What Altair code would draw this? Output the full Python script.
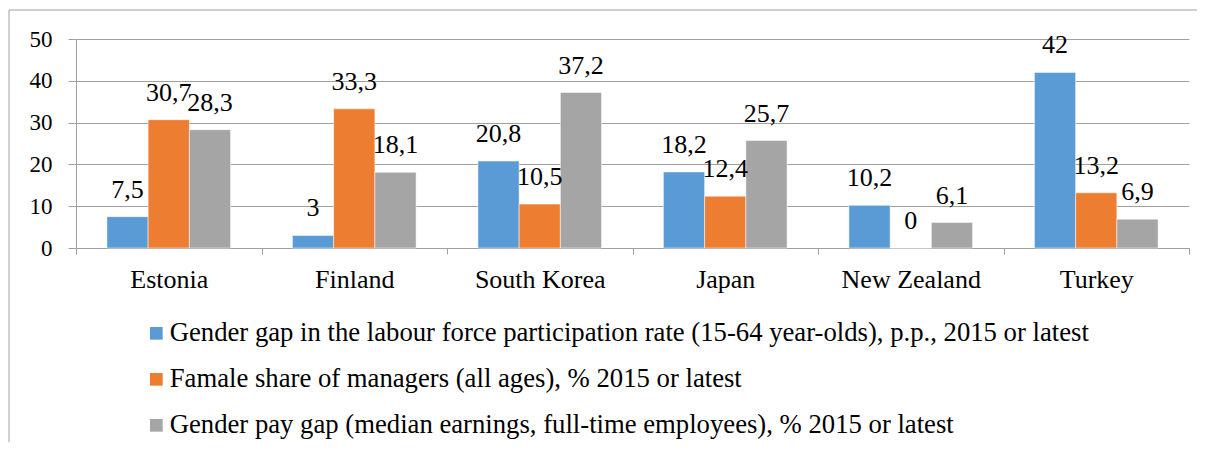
import altair as alt
import pandas as pd

countries = ["Estonia", "Finland", "South Korea", "Japan", "New Zealand", "Turkey"]
series = [
    "Gender gap in the labour force participation rate (15-64 year-olds), p.p., 2015 or latest",
    "Famale share of managers (all ages), % 2015 or latest",
    "Gender pay gap (median earnings, full-time employees), % 2015 or latest",
]
labour_gap = [7.5, 3, 20.8, 18.2, 10.2, 42]
female_managers = [30.7, 33.3, 10.5, 12.4, 0, 13.2]
pay_gap = [28.3, 18.1, 37.2, 25.7, 6.1, 6.9]
colors = ["#5B9BD5", "#ED7D31", "#A5A5A5"]
y_ticks = [0, 10, 20, 30, 40, 50]

rows = []
for s, vals in zip(series, [labour_gap, female_managers, pay_gap]):
    for c, v in zip(countries, vals):
        rows.append({"country": c, "series": s, "value": v,
                     "label": f"{v:g}".replace(".", ",")})
df = pd.DataFrame(rows)

FONT = "Liberation Serif, Times New Roman, serif"
GRID = "#A0A0A0"

x_enc = alt.X("country:N", sort=countries,
              scale=alt.Scale(paddingInner=0, paddingOuter=0),
              axis=alt.Axis(title=None, labelAngle=0, tickBand="extent", ticks=True,
                            tickSize=6, tickColor=GRID, domainColor=GRID,
                            labelFontSize=26, labelFont=FONT, labelColor="black",
                            labelPadding=12, grid=False))
xoff_enc = alt.XOffset("series:N", sort=series,
                       scale=alt.Scale(paddingInner=0, paddingOuter=0.75))
y_enc = alt.Y("value:Q", scale=alt.Scale(domain=[0, 50], nice=False),
              axis=alt.Axis(title=None, values=y_ticks, grid=True, gridColor=GRID,
                            domainColor=GRID, tickColor=GRID, tickSize=8,
                            labelFontSize=23, labelFont=FONT, labelColor="black",
                            labelPadding=16))

bars = alt.Chart(df).mark_bar(stroke="white", strokeWidth=0.5).encode(
    x=x_enc, xOffset=xoff_enc, y=y_enc,
    color=alt.Color("series:N", sort=series,
                    scale=alt.Scale(domain=series, range=colors),
                    legend=alt.Legend(title=None, orient="none", legendX=67, legendY=281,
                                      direction="vertical", symbolType="square",
                                      symbolSize=160, symbolStrokeWidth=0,
                                      labelFontSize=26.7, labelFont=FONT,
                                      labelColor="black", labelLimit=1100,
                                      labelOffset=0, rowPadding=18)),
)

text = alt.Chart(df).mark_text(font=FONT, fontSize=26, color="black",
                               baseline="alphabetic", dy=-19).encode(
    x=alt.X("country:N", sort=countries), xOffset=alt.XOffset("series:N", sort=series),
    y="value:Q", text="label:N",
)

frame = alt.Chart(pd.DataFrame({"a": [0]})).mark_rect(
    filled=False, stroke=GRID, strokeWidth=1
).encode(x=alt.value(-67), x2=alt.value(1300), y=alt.value(-29), y2=alt.value(700))

chart = alt.layer(frame, bars, text).properties(
    width=1113, height=209,
    autosize=alt.AutoSizeParams(type="none"),
    padding={"left": 68, "top": 31, "right": 8, "bottom": 194},
).configure(font=FONT).configure_view(stroke=None).configure_text(font=FONT).configure_legend(
    labelFont=FONT).configure_axis(labelFont=FONT)

chart.save("out.html", embed_options={"renderer": "svg", "actions": False})
